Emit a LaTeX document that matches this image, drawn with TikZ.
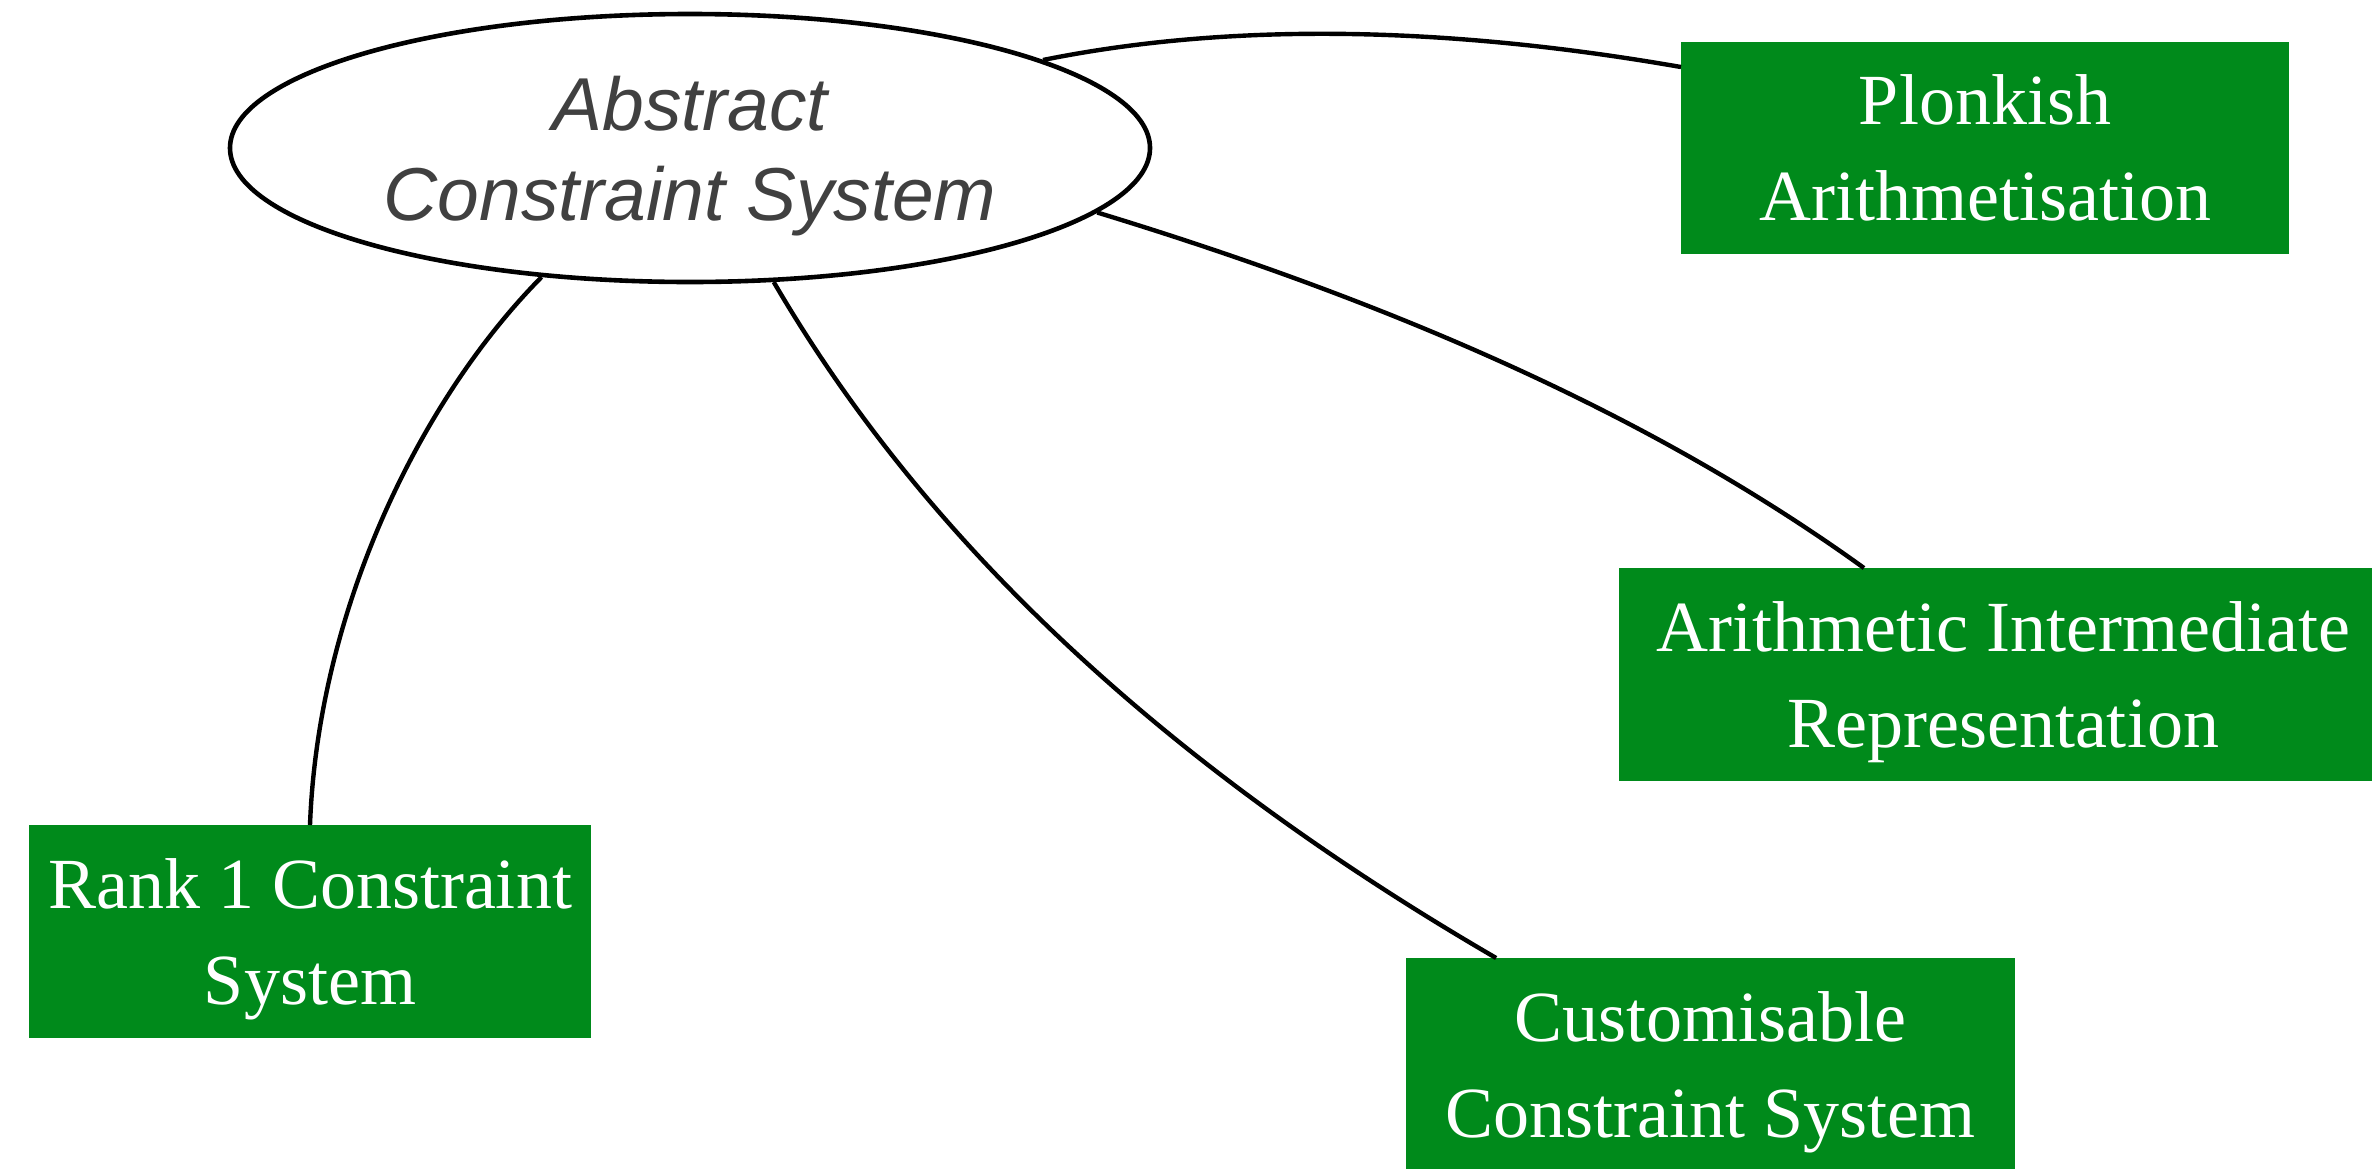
\documentclass[tikz,border=0pt]{standalone}
\usepackage{fontspec}
\setmainfont{Liberation Serif}
\newfontfamily\hubfont{Liberation Sans}
\usetikzlibrary{shapes.geometric,calc}
\definecolor{boxgreen}{RGB}{0,138,27}
\definecolor{labelgray}{RGB}{64,64,64}
\begin{document}
\begin{tikzpicture}[x=0.5pt,y=-0.5pt,
  hub/.style={ellipse,draw=black,line width=2.3pt,minimum width=460pt,
    minimum height=134pt,inner sep=0pt,align=center,text=labelgray,
    font=\hubfont\itshape\fontsize{37.5}{45}\selectfont,text depth=0pt},
  leaf/.style={rectangle,fill=boxgreen,inner sep=0pt,outer sep=0pt,
    align=center,text=white,font=\fontsize{36}{48}\selectfont,text depth=0pt},
  link/.style={line width=2.2pt,draw=black}]
\useasboundingbox (0,0) rectangle (2372,1168);

% central concept
\node[hub] (acs) at (690,148) {Abstract\\Constraint System};

% concrete constraint systems
\node[leaf,minimum width=304pt,minimum height=106pt] (plonk) at (1985,148)
  {Plonkish\\Arithmetisation};
\node[leaf,minimum width=384pt,minimum height=106.5pt] (air) at (2003,674.5)
  {Arithmetic Intermediate\\Representation};
\node[leaf,minimum width=281pt,minimum height=106.5pt] (r1cs) at (310,931.5)
  {Rank 1 Constraint\\System};
\node[leaf,minimum width=304.5pt,minimum height=106.5pt] (ccs) at (1710.5,1064.5)
  {Customisable\\Constraint System};

% links from the central concept
\draw[link] (acs.14) .. controls (1226,23) and (1440,25)
  .. ($(plonk.north west)!0.118!(plonk.south west)$);
\draw[link] (acs.-9.5) .. controls (1404,306) and (1659,420)
  .. ($(air.north west)!0.319!(air.north east)$);
\draw[link] (acs.221) .. controls (420,400) and (318,610) .. (r1cs.north);
\draw[link] (acs.-58) .. controls (922,536) and (1157,761)
  .. ($(ccs.north west)!0.148!(ccs.north east)$);
\end{tikzpicture}
\end{document}
